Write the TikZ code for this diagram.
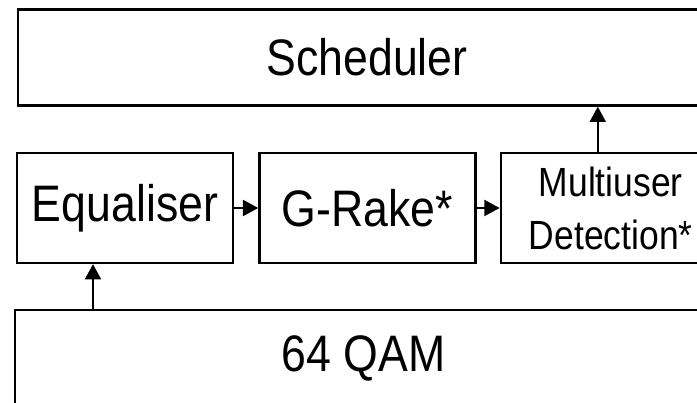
\documentclass[tikz,border=0pt]{standalone}
\usepackage{fontspec}
\setmainfont{Liberation Sans}[FakeStretch=0.87]
\usepackage{tikz}
\usetikzlibrary{arrows.meta,positioning}

\begin{document}
\begin{tikzpicture}[
  font=\fontsize{36.5}{40}\selectfont,
  blk/.style={draw, line width=1.7pt, minimum width=5.4cm, minimum height=2.75cm, inner sep=0pt},
  wide/.style={blk, minimum width=17.45cm, minimum height=2.4cm},
  flow/.style={line width=1.4pt, -{Triangle[length=0.38cm, width=0.4cm]}}]
\clip (0,0) rectangle (17.425,10.075);
% top and bottom bars run past the right edge
\node[wide] (sched) at (9.175,8.6375) {Scheduler};
\node[wide, minimum width=17.425cm] (qam) at (9.0875,1.125) {64 QAM};
% receiver chain
\node[blk] (equal) at (3.125,4.875) {Equaliser};
\node[blk, right=0.6cm of equal] (grake) {G-Rake*};
\node[blk, minimum width=5.5cm, right=0.575cm of grake, align=center,
      font=\fontsize{29}{37.7}\selectfont] (mud) {Multiuser\\Detection*};
\coordinate (eqin) at ([xshift=-0.8cm]equal.south);
\coordinate (mudout) at ([xshift=-0.325cm]mud.north);
\draw[flow] (equal) -- (grake);
\draw[flow] (grake) -- (mud);
\draw[flow] (qam.north -| eqin) -- (eqin);
\draw[flow] (mudout) -- (mudout |- sched.south);
\end{tikzpicture}
\end{document}
